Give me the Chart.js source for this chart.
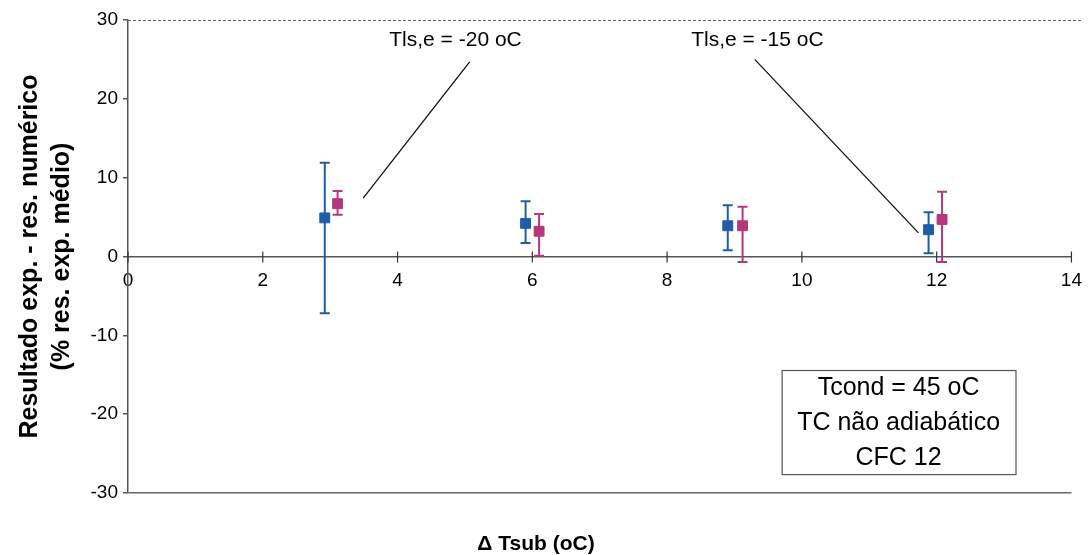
<!DOCTYPE html>
<html>
<head>
<meta charset="utf-8">
<script src="https://cdn.jsdelivr.net/npm/chart.js@4/dist/chart.umd.min.js"></script>
<style>
  html, body { margin: 0; padding: 0; background: #fff; }
  #wrap { width: 1090px; height: 555px; }
</style>
</head>
<body>
<div id="wrap"><canvas id="chart"></canvas></div>
<script>
// Tls,e = -20 oC series (blue) and Tls,e = -15 oC series (pink)
const blueX = [2.92, 5.90, 8.90, 11.88];
const blueY = [4.9, 4.2, 3.9, 3.4];
const blueHi = [11.9, 7.0, 6.5, 5.6];
const blueLo = [-7.2, 1.7, 0.8, 0.4];

const pinkX = [3.11, 6.10, 9.12, 12.08];
const pinkY = [6.7, 3.2, 3.9, 4.7];
const pinkHi = [8.3, 5.4, 6.3, 8.2];
const pinkLo = [5.3, 0.1, -0.7, -0.7];

const boxLines = ["Tcond = 45 oC", "TC não adiabático", "CFC 12"];

const BLUE = "#1f5ea6";
const PINK = "#b4387c";
const FONT = "'Liberation Sans', Arial, sans-serif";

const toPoints = (xs, ys) => xs.map((x, i) => ({ x: x, y: ys[i] }));

// draws error bars, the top dashed border, the notes and the text box
const extras = {
  id: "extras",
  beforeDatasetsDraw(chart) {
    const { ctx, chartArea, scales } = chart;
    const xs = scales.x, ys = scales.y;
    ctx.save();
    // top dashed border
    ctx.strokeStyle = "#666";
    ctx.lineWidth = 1;
    ctx.setLineDash([3, 2]);
    ctx.beginPath();
    ctx.moveTo(chartArea.left, ys.getPixelForValue(30) + 0.5);
    ctx.lineTo(chartArea.right + 10, ys.getPixelForValue(30) + 0.5);
    ctx.stroke();
    ctx.setLineDash([]);

    // x tick marks crossing the zero line
    ctx.strokeStyle = "#333";
    ctx.lineWidth = 1.2;
    const y0 = ys.getPixelForValue(0);
    xs.ticks.forEach((t) => {
      const px = xs.getPixelForValue(t.value);
      ctx.beginPath();
      ctx.moveTo(px, y0 - 5); ctx.lineTo(px, y0 + 6);
      ctx.stroke();
    });

    // error bars
    const bars = [
      [blueX, blueHi, blueLo, BLUE],
      [pinkX, pinkHi, pinkLo, PINK],
    ];
    bars.forEach(([xv, hi, lo, col]) => {
      ctx.strokeStyle = col;
      ctx.lineWidth = 2;
      xv.forEach((x, i) => {
        const px = xs.getPixelForValue(x);
        const pt = ys.getPixelForValue(hi[i]);
        const pb = ys.getPixelForValue(lo[i]);
        ctx.beginPath();
        ctx.moveTo(px, pt); ctx.lineTo(px, pb);
        ctx.moveTo(px - 5, pt); ctx.lineTo(px + 5, pt);
        ctx.moveTo(px - 5, pb); ctx.lineTo(px + 5, pb);
        ctx.stroke();
      });
    });
    ctx.restore();
  },
  afterDraw(chart) {
    const { ctx, scales } = chart;
    const xs = scales.x, ys = scales.y;
    const P = (x, y) => [xs.getPixelForValue(x), ys.getPixelForValue(y)];
    ctx.save();
    ctx.fillStyle = "#000";
    ctx.strokeStyle = "#111";
    ctx.lineWidth = 1.3;
    ctx.font = "21px " + FONT;
    ctx.textAlign = "center";
    ctx.textBaseline = "middle";

    // note -20 oC
    let p = P(4.86, 27.4);
    ctx.fillText("Tls,e = -20 oC", p[0], p[1]);
    let a = P(5.07, 24.7), b = P(3.49, 7.4);
    ctx.beginPath(); ctx.moveTo(a[0], a[1]); ctx.lineTo(b[0], b[1]); ctx.stroke();

    // note -15 oC
    p = P(9.34, 27.4);
    ctx.fillText("Tls,e = -15 oC", p[0], p[1]);
    a = P(9.30, 25.0); b = P(11.73, 3.0);
    ctx.beginPath(); ctx.moveTo(a[0], a[1]); ctx.lineTo(b[0], b[1]); ctx.stroke();

    // text box
    const tl = P(9.70, -14.4), br = P(13.17, -27.6);
    ctx.strokeStyle = "#555";
    ctx.lineWidth = 1.2;
    ctx.strokeRect(tl[0] + 0.5, tl[1] + 0.5, br[0] - tl[0], br[1] - tl[1]);
    ctx.font = "25px " + FONT;
    const cx = (tl[0] + br[0]) / 2;
    const rowH = (br[1] - tl[1]) / 3;
    boxLines.forEach((t, i) => {
      ctx.fillText(t, cx, tl[1] + rowH * (i + 0.5) + 1);
    });
    ctx.restore();
  },
};

const chart = new Chart(document.getElementById("chart"), {
  type: "scatter",
  data: {
    datasets: [
      {
        label: "Tls,e = -20 oC",
        data: toPoints(blueX, blueY),
        pointStyle: "rect",
        pointRadius: 7,
        backgroundColor: BLUE,
        borderColor: BLUE,
      },
      {
        label: "Tls,e = -15 oC",
        data: toPoints(pinkX, pinkY),
        pointStyle: "rect",
        pointRadius: 7,
        backgroundColor: PINK,
        borderColor: PINK,
      },
    ],
  },
  options: {
    responsive: true,
    maintainAspectRatio: false,
    animation: false,
    layout: { padding: { top: 20, right: 18, left: 0, bottom: 0 } },
    plugins: {
      legend: { display: false },
      tooltip: { enabled: false },
      title: {
        display: true,
        position: "bottom",
        text: "\u0394 Tsub (oC)",
        color: "#000",
        font: { family: FONT, size: 21, weight: "bold", lineHeight: 1.0 },
        padding: { top: 41, bottom: 0 },
      },
    },
    scales: {
      x: {
        type: "linear",
        position: { y: 0 },
        min: 0,
        max: 14,
        ticks: {
          stepSize: 2,
          color: "#000",
          font: { family: FONT, size: 19 },
          padding: 8,
          maxRotation: 0,
        },
        grid: { drawOnChartArea: false, drawTicks: true, tickLength: 5, tickColor: "rgba(0,0,0,0)" },
        border: { color: "#555", width: 1.5 },
      },
      y: {
        type: "linear",
        position: "left",
        min: -30,
        max: 30,
        afterFit: (scale) => { scale.width = 128; },
        ticks: {
          stepSize: 10,
          color: "#000",
          font: { family: FONT, size: 19 },
          padding: 5,
        },
        grid: {
          color: (c) => (c.tick && c.tick.value === -30 ? "#666" : "rgba(0,0,0,0)"),
          tickColor: "#555",
          tickLength: 5,
          lineWidth: 1.5,
        },
        border: { color: "#555", width: 1.5 },
        title: {
          display: true,
          text: ["Resultado exp. - res. numérico", "(% res. exp. médio)"],
          color: "#000",
          font: { family: FONT, size: 25, weight: "bold", lineHeight: 1.28 },
          padding: { top: 14, bottom: 0 },
        },
      },
    },
  },
  plugins: [extras],
});
</script>
</body>
</html>
